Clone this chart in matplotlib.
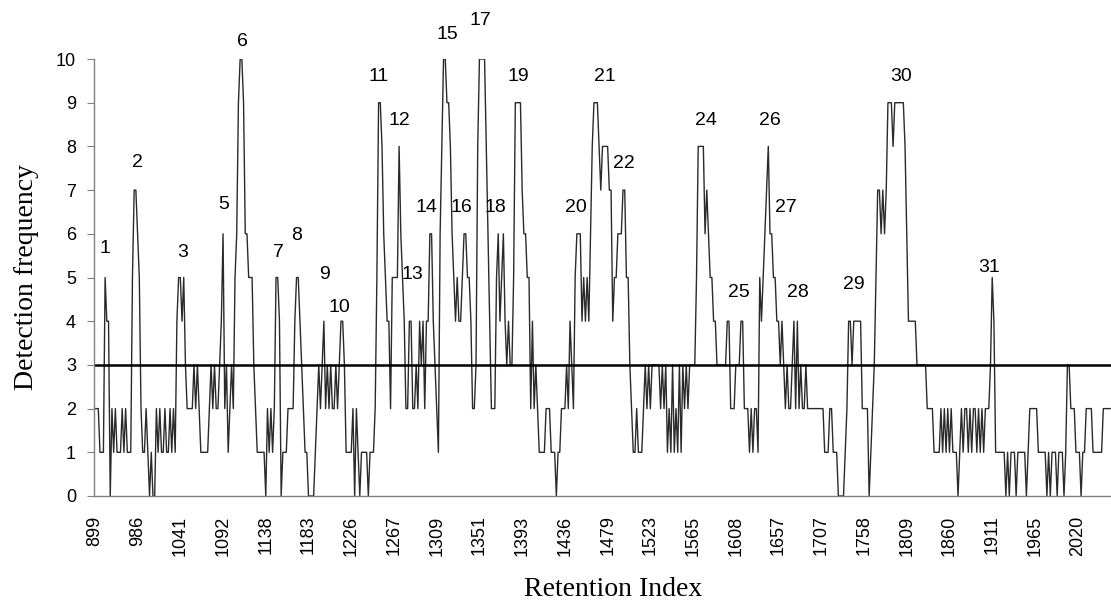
import numpy as np
import matplotlib
matplotlib.use('Agg')
import matplotlib.pyplot as plt

# detection frequency per retention-index bin (25 bins between labelled ticks)
freq = [
    2,2,2,1,1,1,5,4,4,0,2,1,2,1,1,1,2,1,2,1,1,1,5,7,7,
    6,5,2,1,1,2,1,0,1,0,0,2,1,2,1,1,2,1,1,2,1,2,1,4,5,
    5,4,5,3,2,2,2,2,3,2,3,2,1,1,1,1,1,2,3,2,3,2,2,3,4,
    6,2,3,1,2,3,2,5,6,9,10,10,9,6,6,5,5,5,3,2,1,1,1,1,1,
    0,2,1,2,1,2,5,5,4,0,1,1,1,2,2,2,2,4,5,5,4,3,2,1,1,
    0,0,0,0,1,2,3,2,3,4,2,3,2,3,2,2,3,2,3,4,4,3,1,1,1,
    1,2,0,2,1,0,1,1,1,1,0,1,1,1,2,5,9,9,8,6,5,4,4,2,5,
    5,5,5,8,6,5,4,2,2,4,4,2,2,3,2,4,3,4,2,4,4,6,6,4,3,
    2,1,6,8,10,10,9,9,8,6,5,4,5,4,4,5,6,6,5,5,4,2,2,3,8,
    10,10,10,10,8,6,4,2,2,2,5,6,4,5,6,4,3,4,3,3,5,9,9,9,9,
    7,6,6,5,5,2,4,2,3,2,1,1,1,1,2,2,2,1,1,1,0,1,1,2,2,
    2,3,2,4,3,2,5,6,6,6,4,5,4,5,4,6,8,9,9,9,8,7,8,8,8,
    8,7,7,4,5,5,6,6,6,7,7,5,5,3,2,1,1,2,1,1,1,2,3,2,3,
    2,3,3,3,3,3,2,3,2,3,1,2,1,3,1,2,1,3,1,3,2,3,2,3,3,
    3,3,5,8,8,8,8,6,7,6,5,5,4,4,3,3,3,3,3,3,4,4,2,2,2,
    3,3,3,4,4,2,2,2,1,2,1,2,2,1,5,4,5,6,7,8,6,6,5,5,4,
    4,3,4,3,2,3,2,2,3,4,2,4,2,3,2,2,3,2,2,2,2,2,2,2,2,
    2,2,1,1,1,2,2,1,1,1,0,0,0,0,1,2,4,4,3,4,4,4,4,4,2,
    2,2,2,0,1,2,3,5,7,7,6,7,6,7,9,9,9,8,9,9,9,9,9,9,8,
    6,4,4,4,4,4,3,3,3,3,3,3,2,2,2,2,1,1,1,1,2,1,2,1,2,
    1,2,1,1,1,0,1,2,1,2,2,1,2,1,2,2,1,2,1,2,1,2,2,2,3,
    5,4,1,1,1,1,1,1,0,1,0,1,1,1,0,1,1,1,1,1,0,1,2,2,2,
    2,2,1,1,1,1,1,0,1,0,1,1,1,0,1,1,1,0,1,3,3,2,2,2,1,
    1,1,0,1,1,2,2,2,2,1,1,1,1,1,1,2,2,2,2,2,
]

ri_labels = [899, 986, 1041, 1092, 1138, 1183, 1226, 1267, 1309, 1351, 1393, 1436,
             1479, 1523, 1565, 1608, 1657, 1707, 1758, 1809, 1860, 1911, 1965, 2020]
threshold = 3

# peak numbers and where their labels sit (bin, frequency)
peak_ids = [1, 2, 3, 5, 6, 7, 8, 9, 10, 11, 12, 13, 14, 15, 16, 17, 18, 19, 20,
            21, 22, 24, 25, 26, 27, 28, 29, 30, 31]
peak_pos = [(6.1, 5.67), (24.9, 7.64), (51.1, 5.58), (75.1, 6.66), (86.2, 10.39),
            (107.2, 5.58), (118.3, 5.95), (134.6, 5.06), (142.8, 4.32), (166.2, 9.59),
            (177.9, 8.6), (186, 5.06), (194.2, 6.61), (206.5, 10.57), (214.7, 6.61),
            (225.8, 10.87), (234.6, 6.61), (248, 9.59), (281.3, 6.61), (298.2, 9.59),
            (309.3, 7.62), (357.8, 8.6), (376.5, 4.65), (395.2, 8.6), (404.5, 6.61),
            (411.5, 4.65), (444.2, 4.83), (471.7, 9.59), (523, 5.22)]

n = len(freq)
x = np.arange(n)

fig = plt.figure(figsize=(11.11, 6.02), dpi=100)
ax = fig.add_axes([94 / 1111, 106 / 602, 1017 / 1111, 437 / 602])

ax.plot(x, freq, color='#2a2a2a', lw=1.0)
ax.axhline(threshold, color='black', lw=1.8)

for pid, (px, py) in zip(peak_ids, peak_pos):
    ax.text(px, py, str(pid), ha='center', va='center', fontsize=14,
            family='Liberation Sans')

ax.set_xlim(-0.5, n - 0.5)
ax.set_ylim(0, 10)
ax.set_yticks(range(0, 11))
ax.set_xticks(np.arange(0, n, 25))
ax.set_xticklabels([str(v) for v in ri_labels], rotation=90, family='Liberation Sans',
                   fontsize=13)
for lab in ax.get_yticklabels():
    lab.set_family('Liberation Sans')
    lab.set_fontsize(13)

ax.tick_params(axis='x', length=0, pad=14)
ax.tick_params(axis='y', length=5, pad=8, color='#808080')

for s in ['top', 'right']:
    ax.spines[s].set_visible(False)
for s in ['left', 'bottom']:
    ax.spines[s].set_color('#808080')
    ax.spines[s].set_linewidth(1.0)

ax.set_ylabel('Detection frequency', family='Liberation Serif', fontsize=20, labelpad=12)
ax.set_xlabel('Retention Index', family='Liberation Serif', fontsize=20)
# reference title sits a little right of the axis centre, just above the bottom edge
ax.xaxis.set_label_coords(0.51, -0.185)
ax.xaxis.label.set_va('top')

fig.savefig('out.png', dpi=100)
